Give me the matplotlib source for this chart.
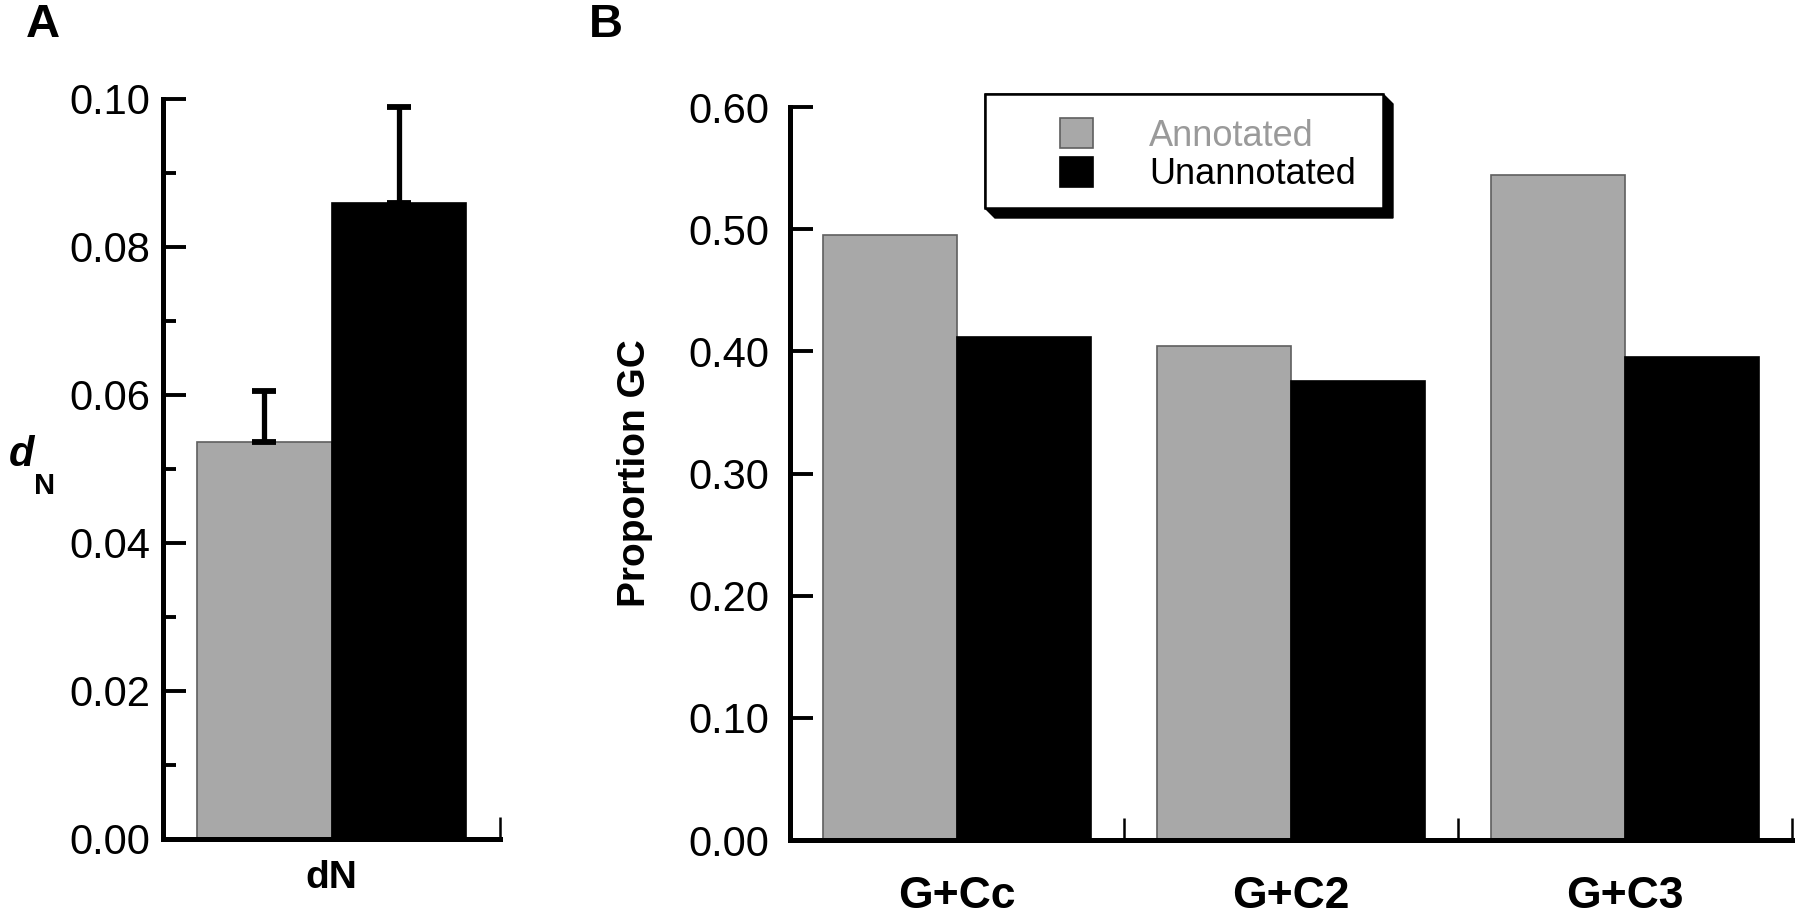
import numpy as np
import matplotlib
matplotlib.use("Agg")
import matplotlib.pyplot as plt
from matplotlib.patches import Polygon, Rectangle

plt.rcParams.update({
    "font.family": ["Liberation Sans", "DejaVu Sans"],
    "font.size": 30,
})
GREY = "#a8a8a8"; GREY_EDGE = "#5f5f5f"

# ---- data ----
dn_cats = ["dN"]
dn_annot = [0.0536]
dn_annot_err = [0.0069]
dn_unannot = [0.0860]
dn_unannot_err = [0.0129]

gc_cats = ["G+Cc", "G+C2", "G+C3"]
gc_annot = [0.495, 0.404, 0.5445]
gc_unannot = [0.412, 0.376, 0.395]

series_labels = ["Annotated", "Unannotated"]

W, H = 1800, 915
fig = plt.figure(figsize=(W / 100, H / 100), dpi=100)

def px_axes(x0, x1, ytop, ybot):
    return fig.add_axes([x0 / W, 1 - ybot / H, (x1 - x0) / W, (ybot - ytop) / H])

def style(ax, ncat, major_len=16.5):
    for s in ["top", "right"]:
        ax.spines[s].set_visible(False)
    for s in ["left", "bottom"]:
        ax.spines[s].set_linewidth(3.6)
        ax.spines[s].set_capstyle("projecting")
    ax.set_xlim(-0.5, ncat - 0.5)
    ax.tick_params(axis="y", direction="in", length=major_len, width=2.8, labelsize=30)
    ax.tick_params(axis="x", which="major", length=0, labelsize=32)
    ax.set_xticks(np.arange(ncat) + 0.5, minor=True)
    ax.tick_params(axis="x", which="minor", direction="in", length=16, width=1.8)
    for t in ax.get_xticklabels():
        t.set_fontweight("bold")

bw = 0.4

# ---- Panel A ----
axA = px_axes(163, 500, 99, 839)
x = np.arange(len(dn_cats))
axA.bar(x - bw / 2, dn_annot, bw, color=GREY, edgecolor=GREY_EDGE, linewidth=1.2)
axA.bar(x + bw / 2, dn_unannot, bw, color="black", edgecolor="black", linewidth=1.2)
axA.errorbar(x - bw / 2, dn_annot, yerr=[[0] * len(x), dn_annot_err], fmt="none",
             ecolor="black", elinewidth=3.8, capsize=8.3, capthick=4.2, zorder=3)
axA.errorbar(x + bw / 2, dn_unannot, yerr=[[0] * len(x), dn_unannot_err], fmt="none",
             ecolor="black", elinewidth=3.8, capsize=8.3, capthick=4.2, zorder=3)
axA.set_ylim(0, 0.1)
axA.set_yticks(np.arange(0, 0.1001, 0.02))
axA.set_yticks(np.arange(0.01, 0.1, 0.02), minor=True)
axA.set_yticklabels([f"{v:.2f}" for v in np.arange(0, 0.1001, 0.02)])
axA.set_xticks(x)
axA.set_xticklabels(dn_cats)
style(axA, len(dn_cats))
axA.tick_params(axis="y", which="minor", direction="in", length=9.5, width=2.8)
axA.tick_params(axis="y", which="major", pad=9)
axA.tick_params(axis="x", which="major", labelsize=28, pad=15)
for t in axA.get_xticklabels():
    t.set_fontweight("bold")
fig.text(22 / W, 1 - 455 / H, "d", fontsize=30, fontweight="bold", fontstyle="italic",
         ha="center", va="center")
fig.text(45 / W, 1 - 486 / H, "N", fontsize=21, fontweight="bold", ha="center", va="center")

# ---- Panel B ----
axB = px_axes(790, 1792, 107, 840)
x = np.arange(len(gc_cats))
axB.bar(x - bw / 2, gc_annot, bw, color=GREY, edgecolor=GREY_EDGE, linewidth=1.2,
        label=series_labels[0])
axB.bar(x + bw / 2, gc_unannot, bw, color="black", edgecolor="black", linewidth=1.2,
        label=series_labels[1])
axB.set_ylim(0, 0.6)
yt = np.arange(0, 0.6001, 0.1)
axB.set_yticks(yt)
axB.set_yticklabels([f"{v:.2f}" for v in yt])
axB.set_xticks(x)
axB.set_xticklabels(gc_cats)
style(axB, len(gc_cats))
axB.tick_params(axis="y", which="major", pad=15)
axB.tick_params(axis="x", which="major", pad=26)
for t in axB.get_xticklabels():
    t.set_fontweight("bold")
axB.set_ylabel("Proportion GC", fontsize=28, fontweight="bold", va="center")
axB.yaxis.set_label_coords((635 - 790) / 1002, 0.5)

# legend box with 3D shadow, drawn in figure pixels
bx0, by0, bx1, by1, off = 985, 94, 1383, 208, 10
def fpt(px, py):
    return (px / W, 1 - py / H)
shadow = Polygon([fpt(bx1, by0), fpt(bx1 + off, by0 + off), fpt(bx1 + off, by1 + off),
                  fpt(bx0 + off, by1 + off), fpt(bx0, by1), fpt(bx0, by0)],
                 closed=True, transform=fig.transFigure, facecolor="black",
                 edgecolor="black", zorder=10)
box = Rectangle(fpt(bx0, by1), (bx1 - bx0) / W, (by1 - by0) / H, transform=fig.transFigure,
                facecolor="white", edgecolor="black", linewidth=1.8, zorder=11)
fig.add_artist(shadow)
fig.add_artist(box)
leg = axB.legend(loc="upper left", bbox_to_anchor=fpt(1060, 118), bbox_transform=fig.transFigure,
                 frameon=False, fontsize=26, handlelength=0.92, handleheight=0.92,
                 handletextpad=1.55, labelspacing=0.08, borderpad=0, borderaxespad=0,
                 labelcolor=["#9a9a9a", "black"])
leg.remove()
fig.add_artist(leg)
leg.set_zorder(12)

fig.text(43 / W, 1 - 25 / H, "A", fontsize=34, fontweight="bold", ha="center", va="center")
fig.text(606 / W, 1 - 25 / H, "B", fontsize=34, fontweight="bold", ha="center", va="center")

fig.savefig("out.png", dpi=100)
